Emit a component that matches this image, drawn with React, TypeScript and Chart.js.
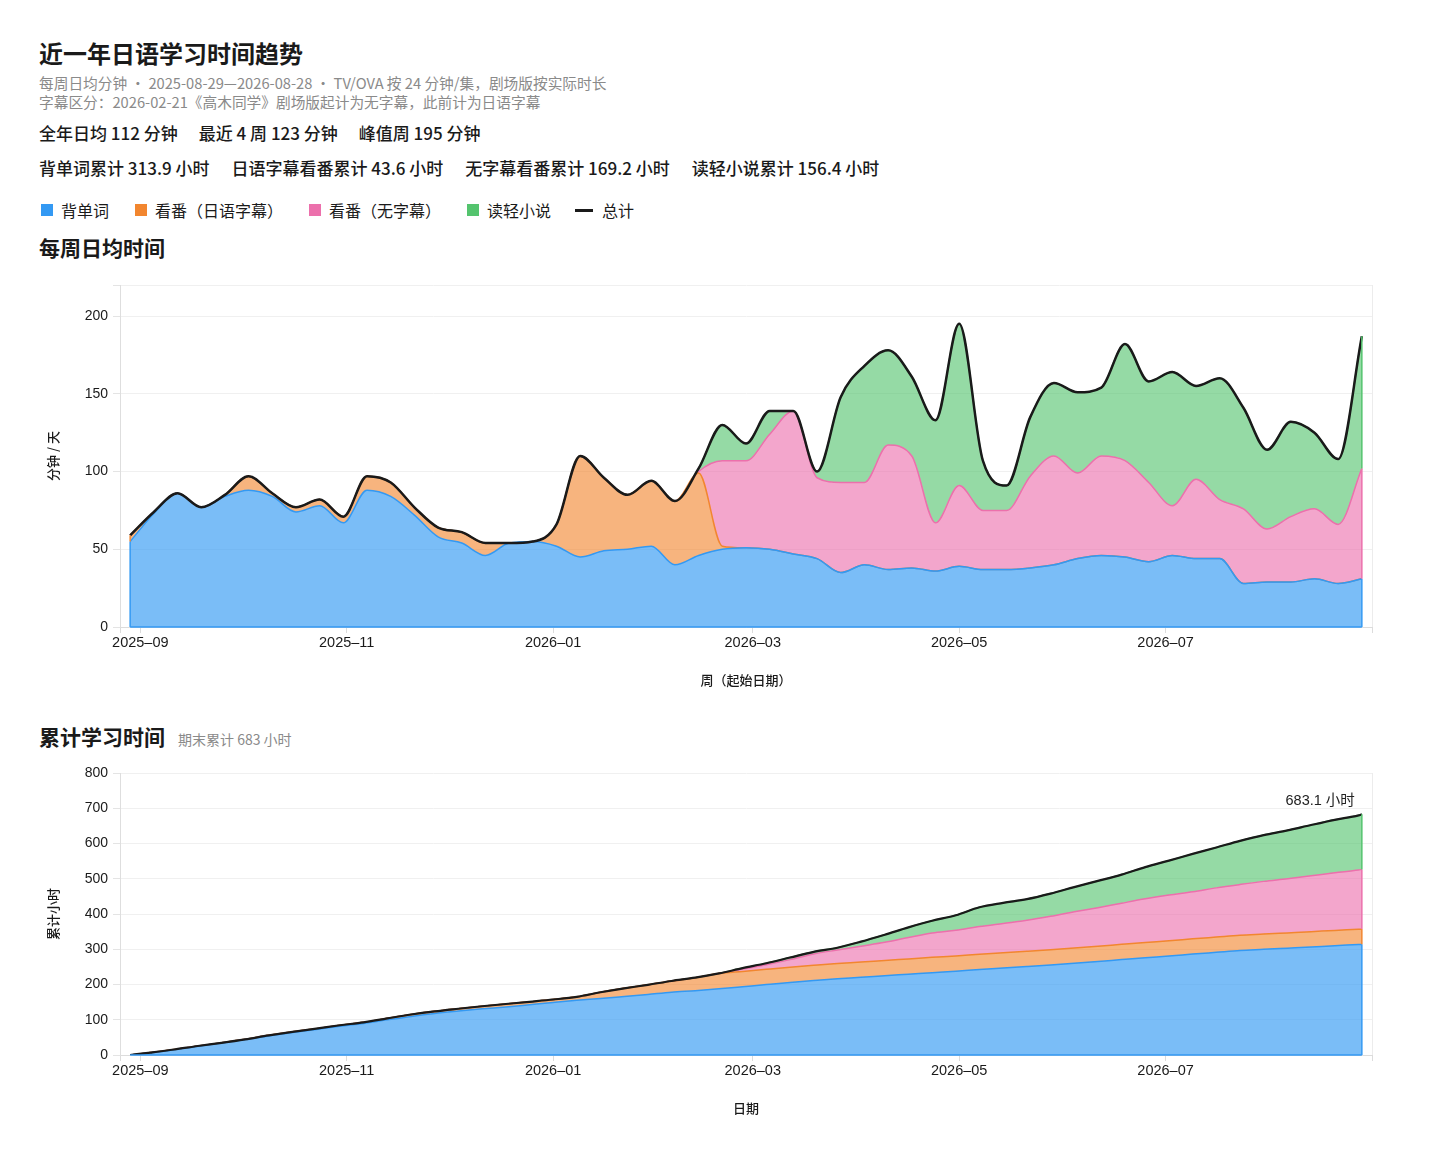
import React, { useEffect, useRef } from 'react';
import { Chart, registerables } from 'chart.js';

Chart.register(...registerables);

// ---------- data ----------
const WEEK_STARTS = [
  '2025-08-29', '2025-09-05', '2025-09-12', '2025-09-19', '2025-09-26',
  '2025-10-03', '2025-10-10', '2025-10-17', '2025-10-24', '2025-10-31',
  '2025-11-07', '2025-11-14', '2025-11-21', '2025-11-28',
  '2025-12-05', '2025-12-12', '2025-12-19', '2025-12-26',
  '2026-01-02', '2026-01-09', '2026-01-16', '2026-01-23', '2026-01-30',
  '2026-02-06', '2026-02-13', '2026-02-20', '2026-02-27',
  '2026-03-06', '2026-03-13', '2026-03-20', '2026-03-27',
  '2026-04-03', '2026-04-10', '2026-04-17', '2026-04-24',
  '2026-05-01', '2026-05-08', '2026-05-15', '2026-05-22', '2026-05-29',
  '2026-06-05', '2026-06-12', '2026-06-19', '2026-06-26',
  '2026-07-03', '2026-07-10', '2026-07-17', '2026-07-24', '2026-07-31',
  '2026-08-07', '2026-08-14', '2026-08-21', '2026-08-28',
];
const PERIOD_START = '2025-08-29';
const PERIOD_END = '2026-08-28';

// minutes per day (weekly average)
const VOCAB = [
  55, 73, 86, 77, 84, 88, 84, 74, 78, 67,
  88, 84, 72, 58, 54, 46, 54, 55, 52, 45,
  49, 50, 52, 40, 46, 50, 51, 50, 47, 44,
  35, 40, 37, 38, 36, 39, 37, 37, 38, 40,
  44, 46, 45, 42, 46, 44, 44, 28, 29, 29,
  31, 28, 31,
];
const ANIME_JP_SUB = [
  4, 1, 0, 0, 1, 9, 2, 3, 4, 4,
  9, 9, 5, 6, 7, 8, 0, 0, 14, 65,
  47, 35, 42, 41, 53, 2, 0, 0, 0, 0,
  0, 0, 0, 0, 0, 0, 0, 0, 0, 0,
  0, 0, 0, 0, 0, 0, 0, 0, 0, 0,
  0, 0, 0,
];
const ANIME_NO_SUB = [
  0, 0, 0, 0, 0, 0, 0, 0, 0, 0,
  0, 0, 0, 0, 0, 0, 0, 0, 0, 0,
  0, 0, 0, 0, 1, 55, 56, 74, 92, 52,
  58, 53, 80, 72, 31, 52, 38, 38, 59, 70,
  55, 64, 62, 51, 32, 51, 38, 48, 34, 42,
  45, 38, 71,
];
const LIGHT_NOVEL = [
  0, 0, 0, 0, 0, 0, 0, 0, 0, 0,
  0, 0, 0, 0, 0, 0, 0, 0, 0, 0,
  0, 0, 0, 0, 2, 23, 11, 15, 0, 4,
  55, 75, 61, 51, 66, 104, 32, 16, 38, 47,
  52, 44, 75, 65, 86, 60, 78, 65, 51, 61,
  49, 42, 85,
];

const SERIES_NAMES = ['背单词', '看番（日语字幕）', '看番（无字幕）', '读轻小说'];
const TOTAL_NAME = '总计';

const MONTH_TICK_DATES = ['2025-09-01', '2025-11-01', '2026-01-01', '2026-03-01', '2026-05-01', '2026-07-01'];
const MONTH_TICK_LABELS = ['2025–09', '2025–11', '2026–01', '2026–03', '2026–05', '2026–07'];
const WEEKLY_Y_TICKS = [0, 50, 100, 150, 200];
const WEEKLY_Y_MAX = 220;
const CUM_Y_TICKS = [0, 100, 200, 300, 400, 500, 600, 700, 800];
const CUM_END_LABEL = '683.1 小时';

const STATS = ['全年日均 112 分钟', '最近 4 周 123 分钟', '峰值周 195 分钟'];
const TOTALS = ['背单词累计 313.9 小时', '日语字幕看番累计 43.6 小时', '无字幕看番累计 169.2 小时', '读轻小说累计 156.4 小时'];

// ---------- styling ----------
const SOLID = ['#3399f3', '#f2862f', '#ec70ac', '#54c46e'];
const FILLS = ['rgba(51,153,243,0.65)', 'rgba(242,134,47,0.62)', 'rgba(236,112,172,0.62)', 'rgba(84,196,110,0.62)'];
const TOTAL_COLOR = '#1a1a1a';
const FONT = '"Noto Sans CJK SC", "Noto Sans", sans-serif';
const TICK_FAMILY = '"Liberation Sans", "Noto Sans CJK SC", sans-serif';

const DAY = 86400000;
const dayIdx = (s: string) => {
  const [y, m, d] = s.split('-').map(Number);
  const [y0, m0, d0] = PERIOD_START.split('-').map(Number);
  return Math.round((Date.UTC(y, m - 1, d) - Date.UTC(y0, m0 - 1, d0)) / DAY);
};
const X_MIN = -3;
const X_MAX = dayIdx(PERIOD_END) + 3;
const MONTH_TICK_VALUES = MONTH_TICK_DATES.map(dayIdx);

const SERIES = [VOCAB, ANIME_JP_SUB, ANIME_NO_SUB, LIGHT_NOVEL];

const areaEdges = {
  id: 'areaEdges',
  afterDatasetsDraw(chart: any, _args: any, opts: any) {
    const { ctx } = chart;
    const base = chart.scales.y.getPixelForValue(0);
    const n = opts.count as number;
    ctx.save();
    ctx.lineWidth = 1.5;
    for (let k = 0; k < n; k++) {
      const meta = chart.getDatasetMeta(k);
      const prev = k > 0 ? chart.getDatasetMeta(k - 1) : null;
      const pts = meta.data;
      if (!pts.length) continue;
      ctx.strokeStyle = chart.data.datasets[k].borderColor;
      for (const j of [0, pts.length - 1]) {
        const p = pts[j];
        const lowY = prev ? prev.data[j].y : base;
        if (Math.abs(lowY - p.y) < 0.5) continue;
        ctx.beginPath();
        ctx.moveTo(p.x, lowY);
        ctx.lineTo(p.x, p.y);
        ctx.stroke();
      }
      if (k === 0) {
        ctx.beginPath();
        ctx.moveTo(pts[0].x, base);
        ctx.lineTo(pts[pts.length - 1].x, base);
        ctx.stroke();
      }
    }
    ctx.restore();
  },
};

const endLabel = {
  id: 'endLabel',
  afterDatasetsDraw(chart: any, _args: any, opts: any) {
    if (!opts || !opts.text) return;
    const meta = chart.getDatasetMeta(opts.index);
    const p = meta.data[meta.data.length - 1];
    if (!p) return;
    const { ctx } = chart;
    ctx.save();
    ctx.font = `14.5px ${TICK_FAMILY}`;
    ctx.fillStyle = '#222';
    ctx.textAlign = 'right';
    ctx.textBaseline = 'middle';
    ctx.fillText(opts.text, p.x - 7, p.y - 13);
    ctx.restore();
  },
};

function xScale(title: string) {
  return {
    type: 'linear',
    min: X_MIN,
    max: X_MAX,
    afterBuildTicks: (s: any) => {
      s.ticks = [X_MIN, ...MONTH_TICK_VALUES, X_MAX].map((v) => ({ value: v }));
    },
    ticks: {
      autoSkip: false,
      maxRotation: 0,
      padding: 1,
      color: '#1a1a1a',
      font: { family: TICK_FAMILY, size: 14.5 },
      callback: (v: any) => {
        const i = MONTH_TICK_VALUES.indexOf(Number(v));
        return i >= 0 ? MONTH_TICK_LABELS[i] : '';
      },
    },
    grid: {
      drawOnChartArea: true,
      tickLength: 6,
      tickColor: '#dcdcdc',
      color: (c: any) =>
        c.tick && (c.tick.value === X_MAX) ? '#ececec' : 'rgba(0,0,0,0)',
    },
    border: { color: '#dcdcdc' },
    title: {
      display: true,
      text: title,
      color: '#1a1a1a',
      font: { family: FONT, size: 13, weight: '500' },
      padding: { top: 20, bottom: 4 },
    },
  };
}

function yScale(title: string, tickVals: number[], max: number) {
  return {
    type: 'linear',
    stacked: true,
    min: 0,
    max,
    afterBuildTicks: (s: any) => {
      const vals = tickVals.includes(max) ? tickVals : [...tickVals, max];
      s.ticks = vals.map((v) => ({ value: v }));
    },
    afterFit: (s: any) => {
      s.width = 81;
    },
    ticks: {
      padding: 5,
      color: '#1a1a1a',
      font: { family: TICK_FAMILY, size: 14 },
      callback: (v: any) => (tickVals.includes(Number(v)) ? String(v) : ''),
    },
    grid: { color: '#f0f0f0', tickLength: 7, tickColor: '#e4e4e4' },
    border: { color: '#dedede' },
    title: {
      display: true,
      text: title,
      color: '#1a1a1a',
      font: { family: FONT, size: 13, weight: '500' },
      padding: { top: 6, bottom: 4 },
    },
  };
}

function buildWeekly() {
  const xs = WEEK_STARTS.map(dayIdx);
  const datasets: any[] = SERIES.map((arr, k) => ({
    label: SERIES_NAMES[k],
    data: arr.map((v, i) => ({ x: xs[i], y: v })),
    borderColor: SOLID[k],
    backgroundColor: FILLS[k],
    borderWidth: 1.5,
    fill: k === 0 ? 'origin' : '-1',
    stack: 'main',
    pointRadius: 0,
    cubicInterpolationMode: 'monotone',
  }));
  datasets.push({
    label: TOTAL_NAME,
    data: xs.map((x, i) => ({ x, y: SERIES.reduce((s, a) => s + a[i], 0) })),
    borderColor: TOTAL_COLOR,
    backgroundColor: TOTAL_COLOR,
    borderWidth: 2.5,
    fill: false,
    stack: 'total',
    order: -1,
    pointRadius: 0,
    cubicInterpolationMode: 'monotone',
  });
  return datasets;
}

function buildCumulative() {
  const xs = WEEK_STARTS.map(dayIdx);
  const endIdx = dayIdx(PERIOD_END);
  const days = xs.map((x, i) => (i < xs.length - 1 ? xs[i + 1] - x : endIdx - x + 1));
  const cum = SERIES.map((arr) => {
    const pts = [{ x: xs[0], y: 0 }];
    let acc = 0;
    arr.forEach((v, i) => {
      acc += (v * days[i]) / 60;
      pts.push({ x: xs[i] + days[i] - 1, y: acc });
    });
    return pts;
  });
  const datasets: any[] = cum.map((pts, k) => ({
    label: SERIES_NAMES[k],
    data: pts,
    borderColor: SOLID[k],
    backgroundColor: FILLS[k],
    borderWidth: 1.5,
    fill: k === 0 ? 'origin' : '-1',
    stack: 'main',
    pointRadius: 0,
    cubicInterpolationMode: 'monotone',
  }));
  datasets.push({
    label: TOTAL_NAME,
    data: cum[0].map((p, i) => ({ x: p.x, y: cum.reduce((s, c) => s + c[i].y, 0) })),
    borderColor: TOTAL_COLOR,
    backgroundColor: TOTAL_COLOR,
    borderWidth: 2.2,
    fill: false,
    stack: 'total',
    order: -1,
    pointRadius: 0,
    cubicInterpolationMode: 'monotone',
  });
  return datasets;
}

const CANVAS_W = 1362;

export default function App() {
  const weeklyRef = useRef<HTMLCanvasElement | null>(null);
  const cumRef = useRef<HTMLCanvasElement | null>(null);

  useEffect(() => {
    const common = {
      animation: false,
      responsive: false,
      maintainAspectRatio: false,
      plugins: { legend: { display: false }, tooltip: { enabled: false } },
    };
    const c1 = new Chart(weeklyRef.current as HTMLCanvasElement, {
      type: 'line',
      data: { datasets: buildWeekly() },
      options: {
        ...common,
        layout: { padding: { top: 22, right: 29, bottom: 8, left: 0 } },
        scales: {
          x: xScale('周（起始日期）'),
          y: yScale('分钟 / 天', WEEKLY_Y_TICKS, WEEKLY_Y_MAX),
        },
        plugins: { ...common.plugins, areaEdges: { count: 4 } },
      } as any,
      plugins: [areaEdges],
    });
    const cumData = buildCumulative();
    const c2 = new Chart(cumRef.current as HTMLCanvasElement, {
      type: 'line',
      data: { datasets: cumData },
      options: {
        ...common,
        layout: { padding: { top: 21, right: 29, bottom: 8, left: 0 } },
        scales: {
          x: xScale('日期'),
          y: yScale('累计小时', CUM_Y_TICKS, 800),
        },
        plugins: {
          ...common.plugins,
          areaEdges: { count: 4 },
          endLabel: { index: 4, text: CUM_END_LABEL },
        },
      } as any,
      plugins: [areaEdges, endLabel],
    });
    return () => {
      c1.destroy();
      c2.destroy();
    };
  }, []);

  const row = (h: number, mt: number, extra: any = {}) => ({
    height: h,
    lineHeight: `${h}px`,
    marginTop: mt,
    whiteSpace: 'nowrap' as const,
    ...extra,
  });

  return (
    <div style={{ padding: '30px 31px 0 31px', fontFamily: FONT, color: '#1a1a1a' }}>
      <div style={row(30, 0, { fontSize: 24, fontWeight: 700 })}>近一年日语学习时间趋势</div>
      <div style={row(19, 5, { fontSize: 14.7, color: '#8a8a8a' })}>
        每周日均分钟 · 2025-08-29—2026-08-28 · TV/OVA 按 24 分钟/集，剧场版按实际时长
      </div>
      <div style={row(19, 0, { fontSize: 14.7, color: '#8a8a8a' })}>
        字幕区分：2026-02-21《高木同学》剧场版起计为无字幕，此前计为日语字幕
      </div>
      <div style={row(24, 10, { fontSize: 17, fontWeight: 500 })}>
        {STATS.map((s, i) => (
          <span key={i} style={{ marginRight: 21 }}>{s}</span>
        ))}
      </div>
      <div style={row(24, 11, { fontSize: 17, fontWeight: 500 })}>
        {TOTALS.map((s, i) => (
          <span key={i} style={{ marginRight: 22 }}>{s}</span>
        ))}
      </div>
      <div style={row(24, 18, { fontSize: 16, display: 'flex', alignItems: 'center' })}>
        {SERIES_NAMES.map((n, i) => (
          <span key={i} style={{ display: 'inline-flex', alignItems: 'center', marginRight: 24 }}>
            <span style={{ width: 12, height: 12, background: SOLID[i], marginLeft: 2, marginRight: 8, display: 'inline-block' }} />
            {n}
          </span>
        ))}
        <span style={{ display: 'inline-flex', alignItems: 'center' }}>
          <span style={{ width: 18, height: 3, background: TOTAL_COLOR, marginRight: 9, display: 'inline-block' }} />
          {TOTAL_NAME}
        </span>
      </div>
      <div style={row(28, 11, { fontSize: 21, fontWeight: 700 })}>每周日均时间</div>
      <canvas ref={weeklyRef} width={CANVAS_W} height={437} style={{ display: 'block', marginTop: 2, width: CANVAS_W, height: 437 }} />
      <div style={row(28, 22, { fontSize: 21, fontWeight: 700 })}>
        累计学习时间
        <span style={{ fontSize: 14, fontWeight: 400, color: '#8a8a8a', marginLeft: 13 }}>期末累计 683 小时</span>
      </div>
      <canvas ref={cumRef} width={CANVAS_W} height={376} style={{ display: 'block', marginTop: 2, width: CANVAS_W, height: 376 }} />
    </div>
  );
}
